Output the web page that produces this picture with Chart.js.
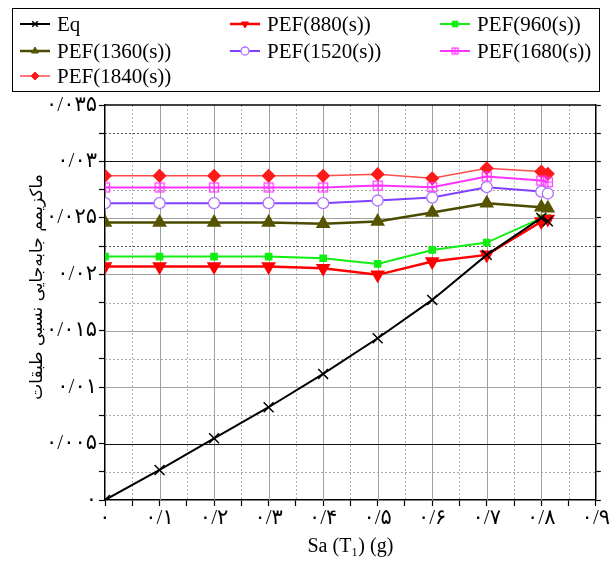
<!DOCTYPE html>
<html>
<head>
<meta charset="utf-8">
<script src="https://cdn.jsdelivr.net/npm/chart.js@4"></script>
<style>
  html, body { margin: 0; padding: 0; background: #fff; }
  #wrap { position: relative; width: 610px; height: 563px; }
  #legend {
    position: absolute; left: 12px; top: 8px; width: 588px; height: 84px;
    border: 1.5px solid #000; box-sizing: border-box;
    font-family: "Liberation Serif", serif; font-size: 21px; color: #000;
  }
  .item { position: absolute; display: flex; align-items: center; height: 24px; }
  .item canvas { margin-right: 5px; }
</style>
</head>
<body>
<div id="wrap">
  <canvas id="myChart" width="610" height="563"></canvas>
  <div id="legend"></div>
</div>
<script>
// Sa (g)
const xVals = [0, 0.1, 0.2, 0.3, 0.4, 0.5, 0.6, 0.7, 0.8, 0.812];

const seriesNames = ["Eq", "PEF(880(s))", "PEF(960(s))", "PEF(1360(s))", "PEF(1520(s))", "PEF(1680(s))", "PEF(1840(s))"];

const eq      = [0, 0.00266, 0.00547, 0.00822, 0.01117, 0.01433, 0.01773, 0.02172, 0.0250, 0.0247];
const pef880  = [0.02068, 0.02068, 0.02068, 0.02068, 0.02054, 0.01995, 0.02113, 0.02172, 0.02467, 0.0249];
const pef960  = [0.02157, 0.02157, 0.02157, 0.02157, 0.02142, 0.02092, 0.02216, 0.02281, 0.02497, 0.02497];
const pef1360 = [0.02459, 0.02459, 0.02459, 0.02459, 0.02447, 0.02467, 0.02547, 0.0263, 0.02595, 0.02586];
const pef1520 = [0.0263, 0.0263, 0.0263, 0.0263, 0.0263, 0.02654, 0.0268, 0.02772, 0.02733, 0.02716];
const pef1680 = [0.02769, 0.02769, 0.02769, 0.02769, 0.02769, 0.02786, 0.02772, 0.02866, 0.0283, 0.02816];
const pef1840 = [0.02872, 0.02872, 0.02872, 0.02872, 0.02872, 0.02887, 0.0285, 0.0294, 0.0291, 0.0289];

const xTickLabels = ["۰", "۰/۱", "۰/۲", "۰/۳", "۰/۴", "۰/۵", "۰/۶", "۰/۷", "۰/۸", "۰/۹"];
const yTickLabels = ["۰", "۰/۰۰۵", "۰/۰۱", "۰/۰۱۵", "۰/۰۲", "۰/۰۲۵", "۰/۰۳", "۰/۰۳۵"];
const yTitle = "ماکزیمم جابه‌جایی نسبی طبقات";

// square with a plus inside, for PEF(1680)
function makeSqPlus(size) {
  const cv = document.createElement("canvas");
  cv.width = size; cv.height = size;
  const c = cv.getContext("2d");
  const m = size / 2;
  c.strokeStyle = "#ff33ff"; c.lineWidth = 1.2;
  c.strokeRect(1.5, 1.5, size - 3, size - 3);
  c.beginPath(); c.moveTo(m, 2); c.lineTo(m, size - 2); c.moveTo(2, m); c.lineTo(size - 2, m); c.stroke();
  return cv;
}
const sqPlus = makeSqPlus(12);

function pts(arr) {
  return arr.map((v, i) => ({ x: xVals[i], y: v }));
}

const datasets = [
  { label: seriesNames[0], data: pts(eq), borderColor: "#000", borderWidth: 2,
    pointStyle: "crossRot", pointRadius: 7, pointBorderColor: "#000", pointBorderWidth: 1.5, pointBackgroundColor: "#000" },
  { label: seriesNames[1], data: pts(pef880), borderColor: "#ff0000", borderWidth: 2.5,
    pointStyle: "triangle", pointRotation: 180, pointRadius: 6, pointBackgroundColor: "#ff0000", pointBorderColor: "#ff0000" },
  { label: seriesNames[2], data: pts(pef960), borderColor: "#11ee11", borderWidth: 2,
    pointStyle: "rect", pointRadius: 4, pointBackgroundColor: "#11ee11", pointBorderColor: "#11ee11" },
  { label: seriesNames[3], data: pts(pef1360), borderColor: "#4a4a00", borderWidth: 2.5,
    pointStyle: "triangle", pointRadius: 6, pointBackgroundColor: "#555500", pointBorderColor: "#555500" },
  { label: seriesNames[4], data: pts(pef1520), borderColor: "#8040ff", borderWidth: 2,
    pointStyle: "circle", pointRadius: 5.5, pointBackgroundColor: "#fff", pointBorderColor: "#b070ff", pointBorderWidth: 1.3 },
  { label: seriesNames[5], data: pts(pef1680), borderColor: "#ff33ff", borderWidth: 2,
    pointStyle: sqPlus, pointRadius: 6 },
  { label: seriesNames[6], data: pts(pef1840), borderColor: "#ff4d4d", borderWidth: 1.5,
    pointStyle: "rectRot", pointRadius: 6, pointBackgroundColor: "#ff1a1a", pointBorderColor: "#ff1a1a" },
];

const tickFont = { family: "'Liberation Serif', 'DejaVu Sans', serif", size: 21 };

// grid lines, top frame and the rotated y title
const gridPlugin = {
  id: "grid",
  beforeDatasetsDraw(chart) {
    const { ctx, chartArea: a, scales } = chart;
    ctx.save();
    ctx.lineWidth = 1;
    for (let i = 1; i < 18; i++) {
      const px = Math.round(scales.x.getPixelForValue(i * 0.05)) + 0.5;
      ctx.setLineDash(i % 2 ? [2, 2] : []);
      ctx.strokeStyle = i % 2 ? "#b0b0b0" : "#a0a0a0";
      ctx.beginPath(); ctx.moveTo(px, a.top); ctx.lineTo(px, a.bottom); ctx.stroke();
    }
    for (let i = 1; i < 14; i++) {
      const py = Math.round(scales.y.getPixelForValue(i * 0.0025)) + 0.5;
      ctx.setLineDash(i % 2 ? [2, 2] : []);
      let col = i % 2 ? "#a8a8a8" : "#a0a0a0";
      if (i === 2 || i === 12) col = "#111";
      if (i === 9 || i === 13) col = "#555";
      ctx.strokeStyle = col;
      ctx.beginPath(); ctx.moveTo(a.left, py); ctx.lineTo(a.right, py); ctx.stroke();
    }
    ctx.restore();
  },
  afterDatasetsDraw(chart) {
    const { ctx, chartArea: a } = chart;
    ctx.save();
    ctx.strokeStyle = "#000"; ctx.lineWidth = 1.5;
    ctx.beginPath(); ctx.moveTo(a.left, a.top); ctx.lineTo(a.right, a.top); ctx.stroke();
    ctx.translate(38, 287);
    ctx.rotate(-Math.PI / 2);
    ctx.fillStyle = "#000";
    ctx.font = "17px 'DejaVu Sans', serif";
    ctx.textAlign = "center";
    ctx.textBaseline = "middle";
    ctx.fillText(yTitle, 0, 0);
    ctx.restore();
  }
};

const ctx = document.getElementById("myChart");

new Chart(ctx, {
  type: "line",
  data: { datasets: datasets },
  options: {
    responsive: false,
    animation: false,
    layout: { padding: { top: 105, left: 0, right: 0, bottom: 0 } },
    plugins: { legend: { display: false }, tooltip: { enabled: false } },
    elements: { line: { tension: 0 } },
    scales: {
      x: {
        type: "linear", min: 0, max: 0.9,
        afterBuildTicks: (s) => { s.ticks = Array.from({ length: 19 }, (_, i) => ({ value: i * 0.05 })); },
        ticks: { callback: (v, i) => (i % 2 ? "" : xTickLabels[i / 2]), font: tickFont, color: "#000",
                 maxRotation: 0, autoSkip: false, padding: 0 },
        grid: { drawOnChartArea: false, tickLength: 6, tickColor: "#000", tickWidth: 1.2 },
        border: { color: "#000", width: 1.5 },
        title: { display: true, text: "Sa (T₁) (g)", color: "#000",
                 font: { family: "'Liberation Serif', serif", size: 20 }, padding: { top: 4 } },
        afterFit: (s) => { s.height = 63; }
      },
      y: {
        type: "linear", min: 0, max: 0.035,
        afterBuildTicks: (s) => { s.ticks = Array.from({ length: 15 }, (_, i) => ({ value: i * 0.0025 })); },
        ticks: { callback: (v, i) => (i % 2 ? "" : yTickLabels[i / 2]), font: tickFont, color: "#000",
                 autoSkip: false, padding: 2 },
        grid: { drawOnChartArea: false, tickLength: 6, tickColor: "#000", tickWidth: 1.2 },
        border: { color: "#000", width: 1.5 },
        afterFit: (s) => { s.width = 105; }
      },
      y2: {
        type: "linear", position: "right", min: 0, max: 0.035,
        afterBuildTicks: (s) => { s.ticks = Array.from({ length: 15 }, (_, i) => ({ value: i * 0.0025 })); },
        ticks: { display: false },
        grid: { drawOnChartArea: false, tickLength: 5, tickColor: "#000", tickWidth: 1.2 },
        border: { color: "#000", width: 1.5 },
        afterFit: (s) => { s.width = 13; }
      }
    }
  },
  plugins: [gridPlugin]
});

// legend, three columns like the original
const legendEl = document.getElementById("legend");
const colX = [5, 215, 425];
const rowY = [3, 30, 55];
datasets.forEach((ds, k) => {
  const item = document.createElement("div");
  item.className = "item";
  item.style.left = colX[k % 3] + "px";
  item.style.top = rowY[Math.floor(k / 3)] + "px";
  const ic = document.createElement("canvas");
  ic.width = 34; ic.height = 20;
  const c = ic.getContext("2d");
  c.strokeStyle = ds.borderColor; c.lineWidth = ds.borderWidth;
  c.beginPath(); c.moveTo(2, 10); c.lineTo(32, 10); c.stroke();
  c.fillStyle = ds.pointBackgroundColor || "#fff";
  c.strokeStyle = ds.pointBorderColor || ds.borderColor;
  c.lineWidth = ds.pointBorderWidth || 1;
  const style = ds.pointStyle === sqPlus ? makeSqPlus(9) : ds.pointStyle;
  Chart.helpers.drawPoint(c, { pointStyle: style, rotation: ds.pointRotation || 0,
    radius: 4, borderWidth: ds.pointBorderWidth || 1 }, 17, 10);
  const t = document.createElement("span");
  t.textContent = ds.label;
  item.appendChild(ic); item.appendChild(t);
  legendEl.appendChild(item);
});
</script>
</body>
</html>
